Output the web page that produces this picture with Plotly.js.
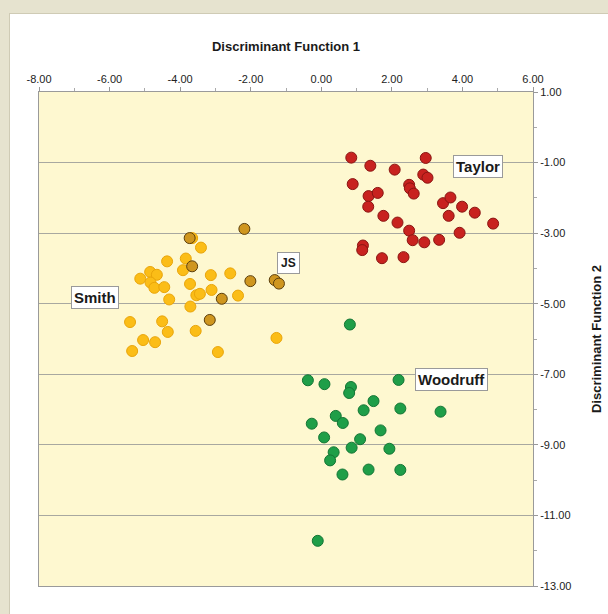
<!DOCTYPE html>
<html>
<head>
<meta charset="utf-8">
<script src="https://cdn.plot.ly/plotly-3.0.1.min.js"></script>
<style>
html,body{margin:0;padding:0;background:#e6e3cf;width:608px;height:614px;overflow:hidden;}
#panel{position:absolute;left:9px;top:13px;width:620px;height:620px;background:#ffffff;border-left:1px solid #cfcbb5;border-top:1px solid #cfcbb5;}
#chart{position:absolute;left:0;top:0;width:608px;height:614px;}
</style>
</head>
<body>
<div id="panel"></div>
<div id="chart"></div>
<script>
// Taylor
const taylorX = [0.85,1.39,2.08,2.96,2.89,3.01,0.89,2.49,2.51,2.62,1.34,1.60,1.33,1.76,2.16,2.49,2.59,2.92,3.34,3.45,3.66,3.61,3.99,4.35,4.87,3.92,1.18,1.16,1.72,2.33];
const taylorY = [-0.86,-1.09,-1.20,-0.87,-1.34,-1.43,-1.61,-1.63,-1.73,-1.88,-1.95,-1.86,-2.25,-2.51,-2.70,-2.93,-3.20,-3.26,-3.19,-2.15,-1.99,-2.51,-2.25,-2.42,-2.73,-2.99,-3.35,-3.48,-3.71,-3.68];
// Smith
const smithX = [-3.66,-3.41,-4.37,-3.84,-3.92,-4.85,-4.66,-5.13,-4.84,-4.73,-4.45,-4.31,-3.72,-3.13,-2.58,-3.11,-3.54,-3.44,-2.36,-3.71,-5.42,-4.51,-4.35,-3.56,-5.05,-4.71,-5.36,-2.93,-1.27];
const smithY = [-3.14,-3.41,-3.80,-3.72,-4.05,-4.10,-4.18,-4.29,-4.40,-4.55,-4.53,-4.88,-4.44,-4.19,-4.14,-4.61,-4.76,-4.72,-4.77,-5.08,-5.52,-5.50,-5.80,-5.77,-6.03,-6.09,-6.34,-6.37,-5.97];
// JS
const jsX = [-3.73,-2.18,-3.66,-2.01,-1.32,-1.20,-2.82,-3.16];
const jsY = [-3.14,-2.88,-3.94,-4.36,-4.33,-4.43,-4.86,-5.46];
// Woodruff
const woodX = [0.81,-0.38,0.09,0.84,0.79,2.19,1.48,1.20,2.24,3.38,0.41,0.61,-0.27,1.68,0.08,1.10,0.86,1.93,0.35,0.25,0.60,1.34,2.24,-0.10];
const woodY = [-5.59,-7.17,-7.28,-7.36,-7.53,-7.16,-7.76,-8.02,-7.97,-8.06,-8.18,-8.38,-8.40,-8.59,-8.79,-8.84,-9.08,-9.11,-9.21,-9.44,-9.84,-9.70,-9.71,-11.72];

const xTickVals = [-8,-6,-4,-2,0,2,4,6];
const xTickText = ["-8.00","-6.00","-4.00","-2.00","0.00","2.00","4.00","6.00"];
const yTickVals = [1,-1,-3,-5,-7,-9,-11,-13];
const yTickText = ["1.00","-1.00","-3.00","-5.00","-7.00","-9.00","-11.00","-13.00"];

const groupLabels = ["Taylor","Smith","JS","Woodruff"];

function mk(x,y,name,fill,line){
  return {x:x,y:y,name:name,type:'scatter',mode:'markers',
    marker:{size:11,color:fill,line:{color:line,width:1}},hoverinfo:'x+y'};
}
const data = [
  mk(smithX,smithY,'Smith','#fbbd17','#e9a50a'),
  mk(jsX,jsY,'JS','#cf961f','#5c3f0c'),
  mk(taylorX,taylorY,'Taylor','#c8221f','#8a1512'),
  mk(woodX,woodY,'Woodruff','#1f9e48','#147534')
];

function lab(text,x,y,size,pad){
  return {text:'<b>'+text+'</b>',x:x,y:y,xref:'x',yref:'y',showarrow:false,
    font:{family:'Liberation Sans, Arial, sans-serif',size:size,color:'#1a1a1a'},
    bgcolor:'#ffffff',bordercolor:'#9a9a9a',borderwidth:1,borderpad:pad};
}

const layout = {
  width:608,height:614,
  paper_bgcolor:'rgba(0,0,0,0)',
  plot_bgcolor:'#fef8d0',
  showlegend:false,
  margin:{l:39,r:75,t:92,b:28,pad:0},
  font:{family:'Liberation Sans, Arial, sans-serif',size:11,color:'#222222'},
  xaxis:{side:'top',range:[-8,6],tickvals:xTickVals,ticktext:xTickText,
    ticks:'outside',ticklen:4,tickcolor:'#999999',
    showline:true,linecolor:'#9a9a9a',linewidth:1,mirror:true,
    showgrid:false,zeroline:false,
    minor:{tickvals:[-7,-5,-3,-1,1,3,5],ticks:'outside',ticklen:3,tickcolor:'#aaaaaa',showgrid:false},
    title:{text:'<b>Discriminant Function 1</b>',font:{size:13,color:'#1a1a1a'},standoff:18}},
  yaxis:{side:'right',range:[-13,1],tickvals:yTickVals,ticktext:yTickText,
    ticks:'outside',ticklen:4,tickcolor:'#999999',
    showline:true,linecolor:'#9a9a9a',linewidth:1,mirror:true,
    showgrid:true,gridcolor:'#a8a8a0',gridwidth:1,zeroline:false,
    minor:{tickvals:[0,-2,-4,-6,-8,-10,-12],ticks:'outside',ticklen:3,tickcolor:'#aaaaaa',showgrid:false},
    title:{text:'<b>Discriminant Function 2</b>',font:{size:13,color:'#1a1a1a'},standoff:21}},
  annotations:[
    lab(groupLabels[0],4.44,-1.10,15,2),
    lab(groupLabels[1],-6.41,-4.81,15,2),
    lab(groupLabels[2],-0.92,-3.84,12,3),
    lab(groupLabels[3],3.70,-7.16,15,2)
  ]
};
Plotly.newPlot('chart',data,layout,{displayModeBar:false,staticPlot:true});
</script>
</body>
</html>
